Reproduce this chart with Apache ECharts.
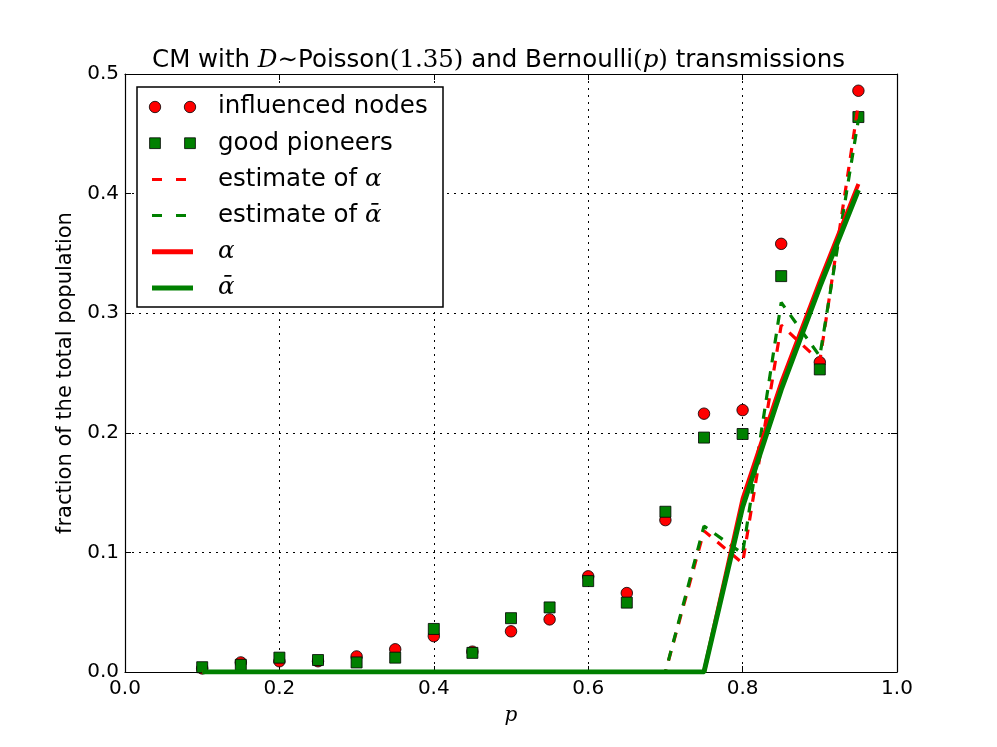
<!DOCTYPE html>
<html>
<head>
<meta charset="utf-8">
<script src="https://cdn.jsdelivr.net/npm/echarts@6/dist/echarts.min.js"></script>
<style>
  html, body { margin: 0; padding: 0; background: #ffffff; }
  #chart { width: 997px; height: 747px; }
</style>
</head>
<body>
<div id="chart"></div>
<script>
// transmission probability p
const pValues = [0.1, 0.15, 0.2, 0.25, 0.3, 0.35, 0.4, 0.45, 0.5, 0.55, 0.6, 0.65, 0.7, 0.75, 0.8, 0.85, 0.9, 0.95];

// simulated fractions
const influencedNodes = [0.003, 0.008, 0.009, 0.009, 0.013, 0.019, 0.030, 0.017, 0.034, 0.044, 0.080, 0.066, 0.127, 0.216, 0.219, 0.358, 0.259, 0.486];
const goodPioneers   = [0.004, 0.006, 0.012, 0.010, 0.008, 0.012, 0.036, 0.016, 0.045, 0.054, 0.076, 0.058, 0.134, 0.196, 0.199, 0.331, 0.253, 0.464];

// estimates
const estAlpha    = [0, 0, 0, 0, 0, 0, 0, 0, 0, 0, 0, 0, 0, 0.118, 0.091, 0.290, 0.260, 0.475];
const estAlphaBar = [0, 0, 0, 0, 0, 0, 0, 0, 0, 0, 0, 0, 0, 0.122, 0.099, 0.309, 0.264, 0.462];

// theoretical values
const alpha    = [0, 0, 0, 0, 0, 0, 0, 0, 0, 0, 0, 0, 0, 0, 0.145, 0.242, 0.327, 0.408];
const alphaBar = [0, 0, 0, 0, 0, 0, 0, 0, 0, 0, 0, 0, 0, 0, 0.138, 0.236, 0.322, 0.403];

const xTicks = [0.0, 0.2, 0.4, 0.6, 0.8, 1.0];
const yTicks = [0.0, 0.1, 0.2, 0.3, 0.4, 0.5];

const RED = '#ff0000';
const GREEN = '#008000';
const FONT = 'DejaVu Sans';
const MATH = 'DejaVu Serif';
const DASH = [10, 9];

function pairs(ys) {
  return pValues.map((p, i) => [p, ys[i]]);
}

const chart = echarts.init(document.getElementById('chart'), null, { renderer: 'canvas' });

const axisCommon = {
  type: 'value',
  axisLine: { show: true, onZero: false, lineStyle: { color: '#000', width: 1.2 } },
  axisTick: { show: true, inside: true, length: 6, lineStyle: { color: '#000', width: 1 } },
  splitLine: { show: false },
  axisLabel: { show: false }
};

// legend rows (drawn as graphic elements, like matplotlib's two-marker legend)
const legendRows = [
  { kind: 'circle', text: [{ t: 'influenced nodes', s: 'n' }] },
  { kind: 'square', text: [{ t: 'good pioneers', s: 'n' }] },
  { kind: 'dash', color: RED, text: [{ t: 'estimate of ', s: 'n' }, { t: 'α', s: 'm' }] },
  { kind: 'dash', color: GREEN, text: [{ t: 'estimate of ', s: 'n' }, { t: 'ᾱ', s: 'm' }] },
  { kind: 'solid', color: RED, text: [{ t: 'α', s: 'm' }] },
  { kind: 'solid', color: GREEN, text: [{ t: 'ᾱ', s: 'm' }] }
];

function buildLegend() {
  const g = [];
  const left = 137, top = 87, w = 306, h = 220;
  g.push({ type: 'rect', shape: { x: left, y: top, width: w, height: h },
    style: { fill: '#fff', stroke: '#000', lineWidth: 1.5 }, z: 100 });
  legendRows.forEach((row, i) => {
    const cy = 107 + i * 36.2;
    if (row.kind === 'circle') {
      [155, 190].forEach(cx => g.push({ type: 'circle', shape: { cx: cx, cy: cy, r: 5.7 },
        style: { fill: RED, stroke: '#000', lineWidth: 0.8 }, z: 101 }));
    } else if (row.kind === 'square') {
      [155, 190].forEach(cx => g.push({ type: 'rect', shape: { x: cx - 5.4, y: cy - 5.4, width: 10.8, height: 10.8 },
        style: { fill: GREEN, stroke: '#000', lineWidth: 0.8 }, z: 101 }));
    } else if (row.kind === 'dash') {
      g.push({ type: 'line', shape: { x1: 152, y1: cy, x2: 193, y2: cy },
        style: { stroke: row.color, lineWidth: 3, lineDash: [10, 14] }, z: 101 });
    } else {
      g.push({ type: 'line', shape: { x1: 152, y1: cy, x2: 193, y2: cy },
        style: { stroke: row.color, lineWidth: 5 }, z: 101 });
    }
    g.push({ type: 'text', x: 218, y: cy, z: 101,
      style: {
        text: row.text.map(p => '{' + p.s + '|' + p.t + '}').join(''),
        verticalAlign: 'middle',
        rich: {
          n: { fontFamily: FONT, fontSize: 24.5, fill: '#000' },
          m: { fontFamily: MATH, fontStyle: 'italic', fontSize: 24.5, fill: '#000' }
        }
      } });
  });
  return g;
}

const option = {
  backgroundColor: '#ffffff',
  animation: false,
  title: {
    text: 'CM with {m|D}{r|∼}Poisson{r|(1.35)} and Bernoulli{r|(}{m|p}{r|)} transmissions',
    left: 'center',
    top: 43,
    textStyle: {
      fontFamily: FONT, fontSize: 24.5, fontWeight: 'normal', color: '#000',
      rich: {
        m: { fontFamily: MATH, fontStyle: 'italic', fontSize: 24.5, color: '#000' },
        r: { fontFamily: MATH, fontSize: 24.5, color: '#000' }
      }
    }
  },
  grid: { left: 125, right: 100, top: 74, bottom: 75, containLabel: false },
  xAxis: [
    Object.assign({}, axisCommon, {
      position: 'bottom', min: 0, max: 1, interval: 0.2,
      splitLine: { show: true, lineStyle: { color: '#000', type: [2, 5], width: 1 } },
      axisLabel: { show: true, color: '#000', fontFamily: FONT, fontSize: 20, margin: 7,
        formatter: v => xTicks.some(t => Math.abs(t - v) < 1e-9) ? v.toFixed(1) : '' },
      name: '{m|p}', nameLocation: 'middle', nameGap: 34,
      nameTextStyle: { rich: { m: { fontFamily: MATH, fontStyle: 'italic', fontSize: 20, color: '#000' } } }
    }),
    Object.assign({}, axisCommon, { position: 'top', min: 0, max: 1, interval: 0.2 })
  ],
  yAxis: [
    Object.assign({}, axisCommon, {
      position: 'left', min: 0, max: 0.5, interval: 0.1,
      splitLine: { show: true, lineStyle: { color: '#000', type: [2, 5], width: 1 } },
      axisLabel: { show: true, color: '#000', fontFamily: FONT, fontSize: 20, margin: 6,
        formatter: v => yTicks.some(t => Math.abs(t - v) < 1e-9) ? v.toFixed(1) : '' },
      name: 'fraction of the total population', nameLocation: 'middle', nameGap: 47,
      nameTextStyle: { fontFamily: FONT, fontSize: 21, color: '#000' }
    }),
    Object.assign({}, axisCommon, { position: 'right', min: 0, max: 0.5, interval: 0.1 })
  ],
  series: [
    {
      name: 'influenced nodes', type: 'scatter', data: pairs(influencedNodes),
      symbol: 'circle', symbolSize: 11.5, z: 2,
      itemStyle: { color: RED, borderColor: '#000', borderWidth: 0.8, opacity: 1 }
    },
    {
      name: 'good pioneers', type: 'scatter', data: pairs(goodPioneers),
      symbol: 'rect', symbolSize: 11, z: 3,
      itemStyle: { color: GREEN, borderColor: '#000', borderWidth: 0.8, opacity: 1 }
    },
    {
      name: 'estimate of alpha', type: 'line', data: pairs(estAlpha),
      showSymbol: false, z: 4,
      lineStyle: { color: RED, width: 3.2, type: DASH }
    },
    {
      name: 'estimate of alpha bar', type: 'line', data: pairs(estAlphaBar),
      showSymbol: false, z: 5,
      lineStyle: { color: GREEN, width: 3.2, type: DASH }
    },
    {
      name: 'alpha', type: 'line', data: pairs(alpha),
      showSymbol: false, z: 6,
      lineStyle: { color: RED, width: 4 }
    },
    {
      name: 'alpha bar', type: 'line', data: pairs(alphaBar),
      showSymbol: false, z: 7,
      lineStyle: { color: GREEN, width: 5 }
    }
  ],
  graphic: buildLegend()
};

chart.setOption(option);
</script>
</body>
</html>
